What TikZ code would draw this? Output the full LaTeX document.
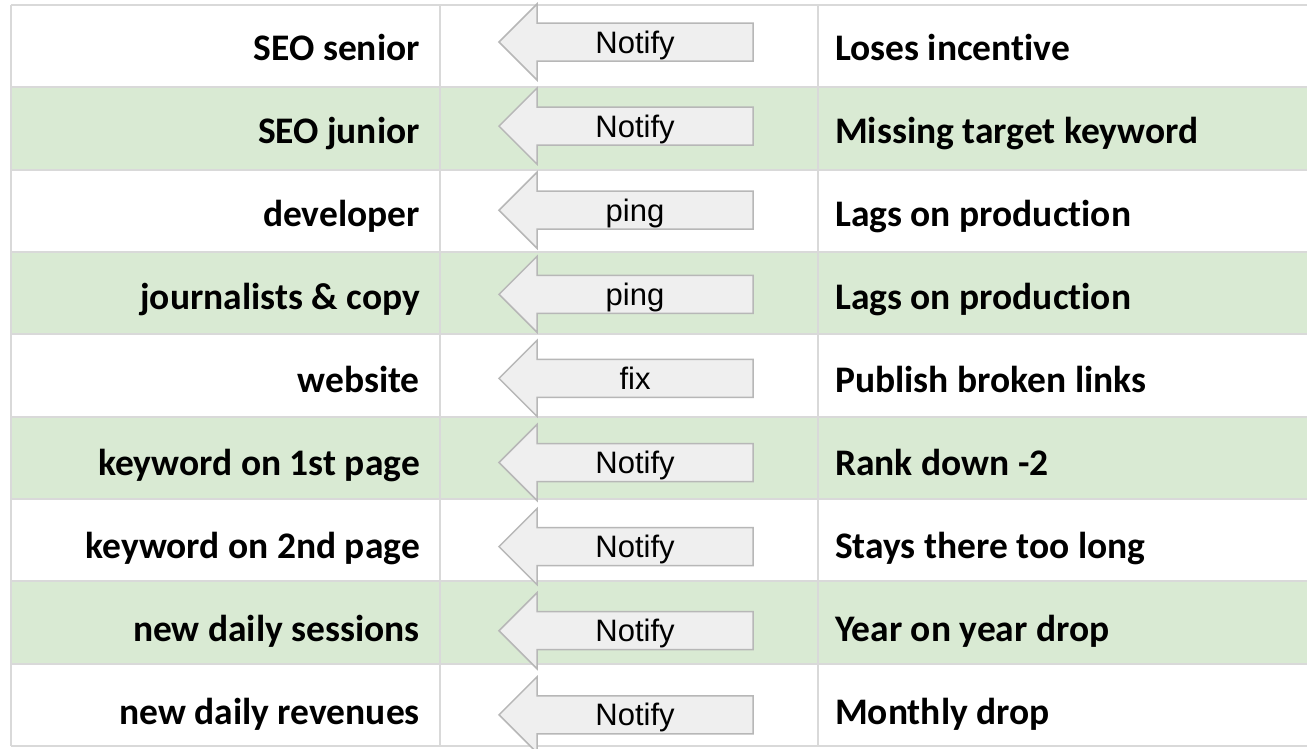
\documentclass[tikz,border=0pt]{standalone}
\usepackage{fontspec}
\newfontfamily\labfont{Carlito}[Ligatures=NoCommon]
\newfontfamily\arrfont{Liberation Sans}
\definecolor{rowgreen}{HTML}{D9EAD3}
\definecolor{gridgray}{HTML}{D9D9D9}
\definecolor{arrowfill}{HTML}{EFEFEF}
\definecolor{arrowline}{HTML}{B7B7B7}
\begin{document}
\begin{tikzpicture}[x=1pt,y=-1pt,
  lab/.style={font=\labfont\bfseries\fontsize{37.5}{42}\selectfont, inner sep=0pt},
  arrlab/.style={font=\arrfont\fontsize{31}{35}\selectfont, inner sep=0pt},
  gridline/.style={draw=gridgray, line width=2pt},
  arrowshape/.style={fill=arrowfill, draw=arrowline, line width=1.5pt, line join=miter}]
\useasboundingbox (0,0) rectangle (1307,748);
\fill[white] (0,0) rectangle (1307,748);
% green rows
\foreach \i in {1,3,5,7}{
  \fill[rowgreen] (11,{5+82.33*\i}) rectangle (1307,{5+82.33*(\i+1)});
}
% grid
\foreach \k in {0,...,9}{
  \draw[gridline] (11,{5+82.33*\k}) -- (1307,{5+82.33*\k});
}
\foreach \xx in {11,440,818}{
  \draw[gridline] (\xx,5) -- (\xx,746);
}
% rows
\foreach \i/\l/\a/\r in {
  0/SEO senior/Notify/Loses incentive,
  1/SEO junior/Notify/Missing target keyword,
  2/developer/ping/Lags on production,
  3/journalists \& copy/ping/Lags on production,
  4/website/fix/Publish broken links,
  5/keyword on 1st page/Notify/Rank down -2,
  6/keyword on 2nd page/Notify/Stays there too long,
  7/new daily sessions/Notify/Year on year drop,
  8/new daily revenues/Notify/Monthly drop}{
  \pgfmathsetmacro{\bl}{60+83.05*\i}
  \pgfmathsetmacro{\ac}{42+84.1*\i}
  \node[lab, anchor=base east] (left\i) at (420,\bl) {\l};
  \node[lab, anchor=base west] (right\i) at (835,\bl) {\r};
  \draw[arrowshape] (499,\ac) -- (537,\ac-38) -- (537,\ac-19) -- (753,\ac-19)
     -- (753,\ac+19) -- (537,\ac+19) -- (537,\ac+38) -- cycle;
  \node[arrlab, anchor=base] (arr\i) at (635,\ac+11) {\a};
}
\end{tikzpicture}
\end{document}
